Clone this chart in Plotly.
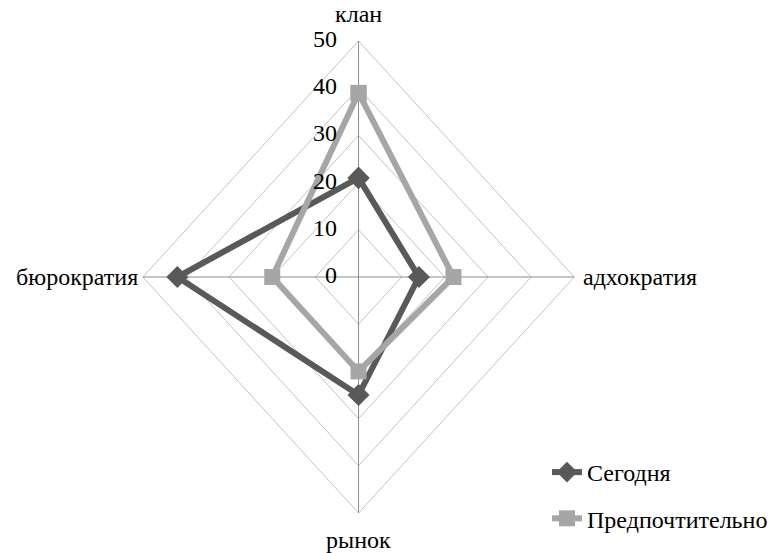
import numpy as np
import plotly.graph_objects as go

# Categories in clockwise order starting from the top
categories = ["клан", "адхократия", "рынок", "бюрократия"]
today = [21, 14, 25, 42]
preferred = [39, 22, 20, 20]
ring_values = [10, 20, 30, 40, 50]
tick_labels = ["0", "10", "20", "30", "40", "50"]

angles = np.deg2rad([90, 0, -90, 180])  # direction of each category axis


def to_xy(values):
    v = np.asarray(values, dtype=float)
    x = v * np.cos(angles)
    y = v * np.sin(angles)
    return np.append(x, x[0]), np.append(y, y[0])


FONT = "Liberation Serif"
fig = go.Figure()

# Grid rings (diamonds)
for r in ring_values:
    gx, gy = to_xy([r] * 4)
    fig.add_trace(go.Scatter(x=gx, y=gy, mode="lines",
                             line=dict(color="#c4c4c4", width=1),
                             hoverinfo="skip", showlegend=False))

# Spokes
rmax = max(ring_values)
for a in angles:
    fig.add_trace(go.Scatter(x=[0, rmax * np.cos(a)], y=[0, rmax * np.sin(a)],
                             mode="lines", line=dict(color="#8c8c8c", width=1),
                             hoverinfo="skip", showlegend=False))

# Data series
tx, ty = to_xy(today)
fig.add_trace(go.Scatter(x=tx, y=ty, mode="lines+markers", name="Сегодня",
                         legendgroup="a",
                         line=dict(color="#595959", width=6),
                         marker=dict(symbol="diamond", size=17, color="#595959")))
px_, py_ = to_xy(preferred)
fig.add_trace(go.Scatter(x=px_, y=py_, mode="lines+markers", name="Предпочтительно",
                         legendgroup="b",
                         line=dict(color="#a6a6a6", width=6),
                         marker=dict(symbol="square", size=16, color="#a6a6a6")))

# Radial tick labels along the top axis
tick_vals = [0] + ring_values
fig.add_trace(go.Scatter(x=[-5.0] * len(tick_vals), y=tick_vals, mode="text",
                         text=tick_labels, textposition="middle left",
                         textfont=dict(family=FONT, size=24, color="#000"),
                         hoverinfo="skip", showlegend=False))

# Category labels
label_pos = [
    (0, 55.8, "center"),
    (51.6, 0, "right"),
    (0, -55.8, "center"),
    (-50.6, 0, "left"),
]
for name, (lx, ly, side) in zip(categories, label_pos):
    xanchor = {"center": "center", "right": "left", "left": "right"}[side]
    fig.add_annotation(x=lx, y=ly, text=name, showarrow=False,
                       xanchor=xanchor, yanchor="middle",
                       font=dict(family=FONT, size=24, color="#000"))

sx, sy = 4.32, 4.72  # pixels per unit
cx, cy = 359, 277
W, H = 773, 553
fig.update_layout(
    width=W, height=H,
    margin=dict(l=0, r=0, t=0, b=0),
    paper_bgcolor="white", plot_bgcolor="white",
    xaxis=dict(range=[-cx / sx, (W - cx) / sx], visible=False, fixedrange=True),
    yaxis=dict(range=[-(H - cy) / sy, cy / sy], visible=False, fixedrange=True),
    legend=dict(x=548 / W, y=1 - 450 / H, xanchor="left", yanchor="top",
                font=dict(family=FONT, size=24, color="#000"),
                bgcolor="rgba(0,0,0,0)", tracegroupgap=12, itemwidth=30),
    showlegend=True,
)

fig.write_html("out.html")
